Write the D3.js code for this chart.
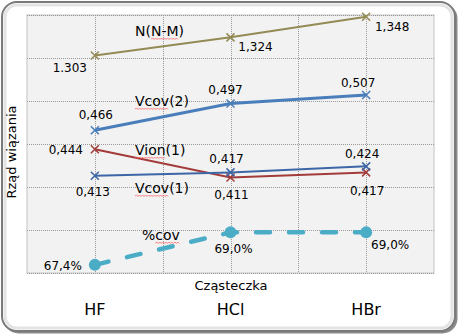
<!DOCTYPE html>
<html><head><meta charset="utf-8">
<script src="https://cdn.jsdelivr.net/npm/d3@7"></script>
<style>body{margin:0;background:#fff}svg{display:block;font-family:"DejaVu Sans",sans-serif}</style>
</head><body><div id="chart"></div>
<script>
// ---- data ----
const categories = ["HF", "HCl", "HBr"];
const valuesNNM = [1.303, 1.324, 1.348];
const labelsNNM = ["1.303", "1,324", "1,348"];
const valuesVcov2 = [0.466, 0.497, 0.507];
const valuesVion1 = [0.444, 0.411, 0.417];
const valuesVcov1 = [0.413, 0.417, 0.424];
const valuesPcov = [67.4, 69.0, 69.0];
const yTicks = [0.30, 0.35, 0.40, 0.45, 0.50, 0.55, 0.60];
const seriesNames = ["N(N-M)", "Vcov(2)", "Vion(1)", "Vcov(1)", "%cov"];
const xTitle = "Cząsteczka";
const yTitle = "Rząd wiązania";

// ---- layout ----
const W = 459, H = 335;
const plot = {l: 27, t: 15, r: 434, b: 273};
const svg = d3.select("#chart").append("svg").attr("width", W).attr("height", H);

// frame
svg.append("rect").attr("x", 3.5).attr("y", 3.5).attr("width", W - 5).attr("height", H - 5)
  .attr("rx", 15).attr("fill", "#8a8a8a");
svg.append("rect").attr("x", 2).attr("y", 2).attr("width", W - 6).attr("height", H - 6)
  .attr("rx", 15).attr("fill", "#fff").attr("stroke", "#7a7a7a").attr("stroke-width", 2);
svg.append("rect").attr("x", 5).attr("y", 5).attr("width", W - 12).attr("height", H - 12)
  .attr("rx", 12).attr("fill", "none").attr("stroke", "#e4e4e4").attr("stroke-width", 3);

// scales
const xBand = d3.scaleBand().domain(categories).range([plot.l, plot.r]);
const x = d => xBand(d) + xBand.bandwidth() / 2;
const y = d3.scaleLinear().domain([0.30, 0.60]).range([plot.b, plot.t]);
const yN = d3.scaleLinear().domain([1.05, 1.35]).range([plot.b, plot.t]);
const yP = d3.scaleLinear().domain([67.0, 79.7]).range([plot.b, plot.t]);

// plot area
svg.append("rect").attr("x", plot.l).attr("y", plot.t).attr("width", plot.r - plot.l)
  .attr("height", plot.b - plot.t).attr("fill", "#f2f2f2").attr("stroke", "#c4c4c4");
const grid = svg.append("g").attr("stroke", "#9a9a9a").attr("stroke-dasharray", "1 1").attr("shape-rendering", "crispEdges");
grid.selectAll("line.h").data(yTicks).join("line")
  .attr("x1", plot.l).attr("x2", plot.r).attr("y1", d => Math.round(y(d)) + 0.5).attr("y2", d => Math.round(y(d)) + 0.5);
const vpos = [];
categories.forEach(c => { vpos.push(xBand(c)); vpos.push(x(c)); });
vpos.shift();
grid.selectAll("line.v").data(vpos).join("line")
  .attr("y1", plot.t).attr("y2", plot.b).attr("x1", d => Math.round(d) + 0.5).attr("x2", d => Math.round(d) + 0.5);

// series
const series = [
  {vals: valuesNNM, ys: yN, color: "#948a54", w: 2, labels: labelsNNM,
   off: [[-25, 17], [25, 14], [26, 14]]},
  {vals: valuesVcov2, ys: y, color: "#4a7ebb", w: 3,
   off: [[1, -11], [-5, -10], [-8, -8]]},
  {vals: valuesVion1, ys: y, color: "#a33b3b", w: 2,
   off: [[-29, 5], [1, 21], [1, 23]]},
  {vals: valuesVcov1, ys: y, color: "#3d66a6", w: 2,
   off: [[-2, 20], [-4, -9], [-4, -8]]},
];
const fmt = v => d3.format(".3f")(v).replace(".", ",");
const line = s => d3.line().x((d, i) => x(categories[i])).y(d => s.ys(d));

series.forEach(s => {
  svg.append("path").datum(s.vals).attr("d", line(s)).attr("fill", "none")
    .attr("stroke", s.color).attr("stroke-width", s.w);
});
series.forEach(s => {
  const g = svg.append("g");
  s.vals.forEach((v, i) => {
    const cx = x(categories[i]), cy = s.ys(v), r = 4;
    g.append("path").attr("d", `M${cx - r},${cy - r}L${cx + r},${cy + r}M${cx - r},${cy + r}L${cx + r},${cy - r}`)
      .attr("stroke", s.color).attr("stroke-width", 1.5);
  });
});

// %cov
const pLine = d3.line().x((d, i) => x(categories[i])).y(d => yP(d));
svg.append("path").datum(valuesPcov).attr("d", pLine).attr("fill", "none")
  .attr("stroke", "#4bacc6").attr("stroke-width", 4.5).attr("stroke-dasharray", "14 19")
  .attr("stroke-linecap", "round");
svg.selectAll("circle.p").data(valuesPcov).join("circle")
  .attr("cx", (d, i) => x(categories[i])).attr("cy", d => yP(d)).attr("r", 6).attr("fill", "#4bacc6");

// data labels
const lab = svg.append("g").attr("font-size", 12).attr("text-anchor", "middle").attr("fill", "#000");
series.forEach(s => {
  s.vals.forEach((v, i) => {
    lab.append("text").attr("x", x(categories[i]) + s.off[i][0]).attr("y", s.ys(v) + s.off[i][1])
      .text(s.labels ? s.labels[i] : fmt(v));
  });
});
const pOff = [[-32, 5], [3, 21], [24, 17]];
valuesPcov.forEach((v, i) => {
  lab.append("text").attr("x", x(categories[i]) + pOff[i][0]).attr("y", yP(v) + pOff[i][1])
    .text(d3.format(".1f")(v).replace(".", ",") + "%");
});

// series name annotations with spell-check squiggles
const nameX = 135;
const nameY = [36, 106, 155, 193, 240];
const squig = [[2, 3], [0, 4], [0, 4], [0, 4], [1, 3]];
seriesNames.forEach((n, i) => {
  const t = svg.append("text").attr("x", i === 4 ? nameX + 7 : nameX).attr("y", nameY[i])
    .attr("font-size", 14).text(n);
  const node = t.node();
  const x0 = +t.attr("x") + (squig[i][0] ? node.getSubStringLength(0, squig[i][0]) : 0);
  const x1 = +t.attr("x") + node.getSubStringLength(0, squig[i][0] + squig[i][1]);
  let d = `M${x0},${nameY[i] + 3}`;
  let up = true;
  for (let xx = x0 + 1.5; xx <= x1; xx += 1.5) { d += `L${xx},${nameY[i] + (up ? 2 : 3.5)}`; up = !up; }
  svg.append("path").attr("d", d).attr("fill", "none").attr("stroke", "#ff6060").attr("stroke-width", 0.8);
});

// axis titles & category labels
svg.append("text").attr("x", 231).attr("y", 290).attr("text-anchor", "middle").attr("font-size", 13).text(xTitle);
svg.append("text").attr("transform", "translate(16,152) rotate(-90)").attr("text-anchor", "middle")
  .attr("font-size", 13).text(yTitle);
svg.selectAll("text.cat").data(categories).join("text").attr("class", "cat")
  .attr("x", d => x(d)).attr("y", 315).attr("text-anchor", "middle").attr("font-size", 16).text(d => d);
</script></body></html>
